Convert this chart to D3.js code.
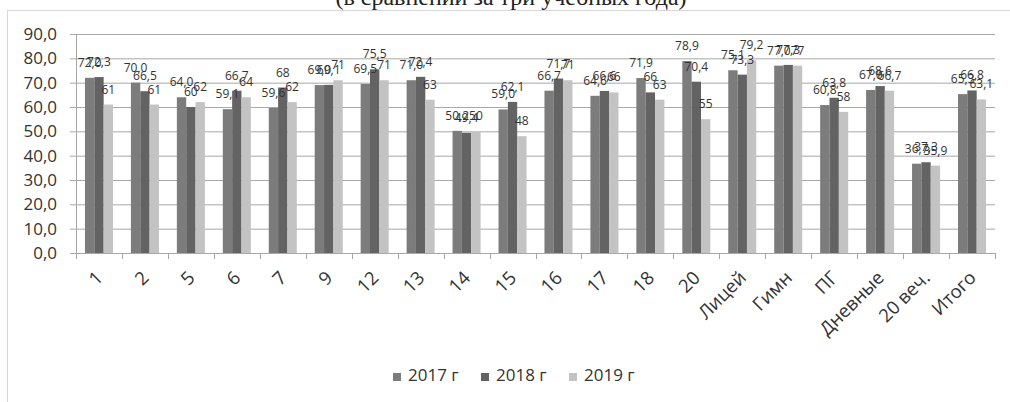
<!DOCTYPE html>
<html><head><meta charset="utf-8">
<script src="https://cdn.jsdelivr.net/npm/d3@7"></script>
<style>
html,body{margin:0;padding:0;background:#fff;}
svg{display:block;}
</style></head>
<body>
<svg id="chart" width="1010" height="402"></svg>
<script>
const title = "(в сравнении за три учебных года)";
const categories = ["1","2","5","6","7","9","12","13","14","15","16","17","18","20","Лицей","Гимн","ПГ","Дневные","20 веч.","Итого"];
const seriesNames = ["2017 г","2018 г","2019 г"];
// values as written on the data labels
const values2017 = ["72,0","70,0","64,0","59,1","59,6","69,0","69,5","71,0","50,2","59,0","66,7","64,6","71,9","78,9","75,1","77,0","60,8","67,0","36,7","65,3"];
const values2018 = ["72,3","66,5","60","66,7","68","69,1","75,5","72,4","49,4","62,1","71,7","66,6","66","70,4","73,3","77,3","63,8","68,6","37,3","66,8"];
const values2019 = ["61","61","62","64","62","71","71","63","50","48","71","66","63","55","79,2","77","58","66,7","35,9","63,1"];
const yTicks = [0,10,20,30,40,50,60,70,80,90];

const colors = ["#7c7c7c","#636363","#c3c3c3"];
const allSeries = [values2017, values2018, values2019];
const toNum = s => parseFloat(s.replace(",", "."));

const svg = d3.select("#chart");
const font = "'Open Sans', 'Noto Sans', sans-serif";

// frame
svg.append("rect").attr("x",7.5).attr("y",10.5).attr("width",1100).attr("height",500)
  .attr("fill","none").attr("stroke","#b0b0b0").attr("stroke-dasharray","1,1");

// title (cut at top)
svg.append("text").attr("x",511).attr("y",4.5).attr("text-anchor","middle")
  .attr("font-family","'Liberation Serif', 'Times New Roman', serif").attr("font-size",24)
  .attr("fill","#222").text(title);

const x0 = d3.scaleBand().domain(categories).range([76,995]).padding(0);
const groupW = x0.bandwidth()*0.61;
const x1 = d3.scaleBand().domain([0,1,2]).range([(x0.bandwidth()-groupW)/2,(x0.bandwidth()+groupW)/2]).padding(0);
const y = d3.scaleLinear().domain([0,90]).range([253,34]);

// gridlines
svg.append("g").selectAll("line").data(yTicks).join("line")
  .attr("x1",70).attr("x2",995).attr("y1",d=>y(d)+0.5).attr("y2",d=>y(d)+0.5)
  .attr("stroke","#a8a8a8").attr("stroke-width",1);

// y axis line
svg.append("line").attr("x1",76.5).attr("x2",76.5).attr("y1",y(90)).attr("y2",y(0))
  .attr("stroke","#a8a8a8");

// y labels
svg.append("g").selectAll("text").data(yTicks).join("text")
  .attr("x",57).attr("y",d=>y(d)).attr("dy","0.36em").attr("text-anchor","end")
  .attr("font-family",font).attr("font-size",17).attr("fill","#333")
  .text(d=>d3.format(".1f")(d).replace(".",","));

// x ticks
const tickXs = categories.map(c=>x0(c)).concat([x0(categories[categories.length-1])+x0.bandwidth()]);
svg.append("g").selectAll("line").data(tickXs).join("line")
  .attr("x1",d=>Math.round(d)+0.5).attr("x2",d=>Math.round(d)+0.5).attr("y1",y(0)).attr("y2",y(0)+6)
  .attr("stroke","#a8a8a8");

// bars
const groups = svg.append("g").selectAll("g").data(categories).join("g")
  .attr("transform",c=>`translate(${x0(c)},0)`);
groups.selectAll("rect").data((c,i)=>allSeries.map((s,k)=>({k,v:toNum(s[i])}))).join("rect")
  .attr("x",d=>x1(d.k)).attr("width",x1.bandwidth())
  .attr("y",d=>y(d.v)).attr("height",d=>y(0)-y(d.v))
  .attr("fill",d=>colors[d.k]);

// baseline
svg.append("line").attr("x1",76).attr("x2",995).attr("y1",y(0)+0.5).attr("y2",y(0)+0.5)
  .attr("stroke","#a8a8a8");

// data labels
groups.selectAll("text").data((c,i)=>allSeries.map((s,k)=>({k,s:s[i],v:toNum(s[i])}))).join("text")
  .attr("x",d=>x1(d.k)+x1.bandwidth()/2).attr("y",d=>y(d.v)-11)
  .attr("text-anchor","middle").attr("font-family",font).attr("font-size",12)
  .attr("fill","#333").text(d=>d.s);

// x labels
svg.append("g").selectAll("text").data(categories).join("text")
  .attr("transform",c=>`translate(${x0(c)+x0.bandwidth()/2+5},279) rotate(-45)`)
  .attr("text-anchor","end").attr("font-family",font).attr("font-size",18.5).attr("fill","#333")
  .text(c=>c);

// legend
const legend = svg.append("g").selectAll("g").data(seriesNames).join("g")
  .attr("transform",(d,i)=>`translate(${393+i*88},373)`);
legend.append("rect").attr("width",8).attr("height",8).attr("fill",(d,i)=>colors[i]);
legend.append("text").attr("x",15).attr("y",8).attr("font-family",font).attr("font-size",17)
  .attr("fill","#333").text(d=>d);
</script>
</body></html>
